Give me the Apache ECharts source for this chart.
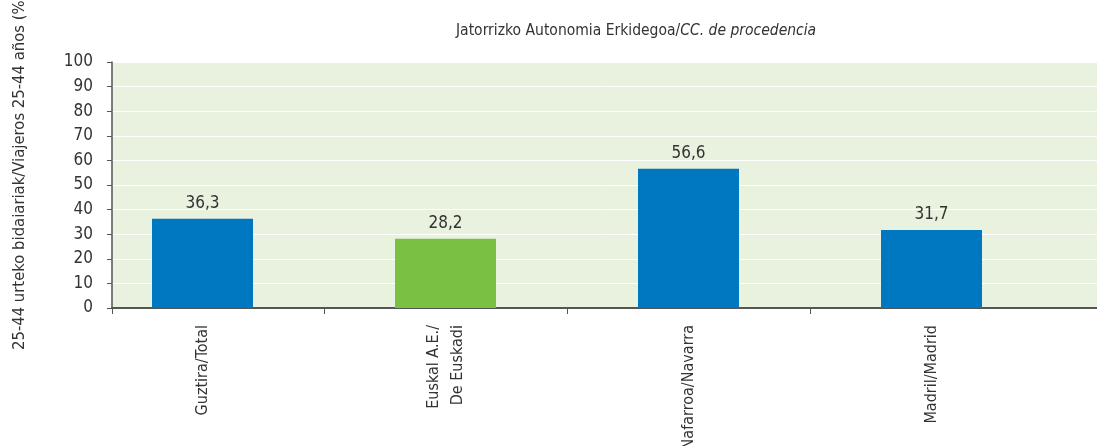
<!DOCTYPE html>
<html>
<head>
<meta charset="utf-8">
<script src="https://cdn.jsdelivr.net/npm/echarts@6/dist/echarts.min.js"></script>
<style>
html, body { margin: 0; padding: 0; background: #fff; }
#chart { width: 1097px; height: 446px; }
</style>
</head>
<body>
<div id="chart"></div>
<script>
// datos
const categories = ['Guztira/Total', 'Euskal A.E./\nDe Euskadi', 'Nafarroa/Navarra', 'Madril/Madrid']
const values = [36.3, 28.2, 56.6, 31.7]
const barColors = ['#0077c1', '#7ac143', '#0077c1', '#0077c1']
const yTicks = { min: 0, max: 100, interval: 10 }
const titleMain = 'Jatorrizko Autonomia Erkidegoa/'
const titleItalic = 'CC. de procedencia'
const yName = '25-44 urteko bidaiariak/Viajeros 25-44 años (%)'

const font = '"Liberation Sans Narrow", "DejaVu Sans Condensed", sans-serif'
const textColor = '#333'

const chart = echarts.init(document.getElementById('chart'))

// una categoria vacia al final para que el ultimo tick quede fuera
const xCats = categories.concat([''])

const option = {
  animation: false,
  title: {
    text: '{a|' + titleMain + '}{b|' + titleItalic + '}',
    left: 451,
    top: 18,
    textStyle: {
      fontWeight: 'normal',
      rich: {
        a: { fontFamily: font, fontSize: 15.5, fontWeight: 'normal', color: textColor },
        b: { fontFamily: font, fontSize: 15.5, fontWeight: 'normal', color: textColor, fontStyle: 'italic' }
      }
    }
  },
  graphic: [
    {
      type: 'text',
      x: 20,
      y: 350,
      rotation: Math.PI / 2,
      style: {
        text: yName,
        font: '16.5px ' + font,
        fill: textColor,
        textAlign: 'left',
        textVerticalAlign: 'middle'
      }
    }
  ],
  grid: [
    {
      // fondo verde y eje Y
      left: 112, right: 0, top: 62, bottom: 138,
      outerBoundsMode: 'none',
      show: true, backgroundColor: '#e9f1df', borderWidth: 0
    },
    {
      // barras
      left: 81, right: -199, top: 62, bottom: 138,
      outerBoundsMode: 'none'
    }
  ],
  xAxis: [
    {
      gridIndex: 0,
      type: 'category',
      data: [''],
      axisLine: { lineStyle: { color: '#555', width: 2 } },
      axisTick: { show: true, length: 6, lineStyle: { color: '#555' } },
      axisLabel: { show: false },
      splitLine: { show: false }
    },
    {
      gridIndex: 1,
      type: 'category',
      data: xCats,
      axisLine: { show: false },
      axisTick: {
        show: true,
        length: 6,
        interval: function (idx) { return idx >= 1 && idx <= 3 },
        lineStyle: { color: '#555' }
      },
      axisLabel: {
        interval: 0,
        rotate: 90,
        margin: 17,
        fontFamily: font,
        fontSize: 16,
        lineHeight: 24,
        color: textColor
      }
    }
  ],
  yAxis: [
    {
      gridIndex: 0,
      type: 'value',
      min: yTicks.min,
      max: yTicks.max,
      interval: yTicks.interval,
      axisLine: { show: true, lineStyle: { color: '#555', width: 1.5 } },
      axisTick: { show: true, length: 5, lineStyle: { color: '#555' } },
      axisLabel: { margin: 19, fontFamily: font, fontSize: 17, color: textColor },
      splitLine: { show: true, lineStyle: { color: '#fff', width: 1 } }
    },
    {
      gridIndex: 1,
      type: 'value',
      min: yTicks.min,
      max: yTicks.max,
      show: false
    }
  ],
  series: [
    {
      type: 'bar',
      xAxisIndex: 1,
      yAxisIndex: 1,
      barWidth: 101,
      data: values.map((v, i) => ({ value: v, itemStyle: { color: barColors[i] } })),
      label: {
        show: true,
        position: 'top',
        distance: 7,
        fontFamily: font,
        fontSize: 17,
        color: textColor,
        formatter: p => String(p.value).replace('.', ',')
      }
    }
  ]
}

chart.setOption(option)
window.addEventListener('resize', function () {
  chart.resize()
})
</script>
</body>
</html>
